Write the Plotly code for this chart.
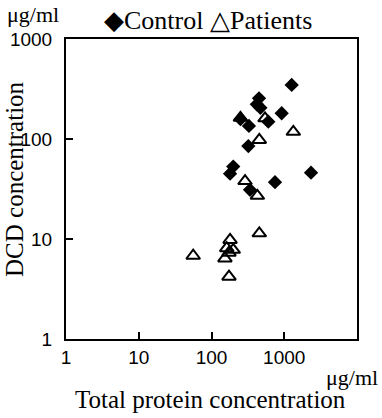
import plotly.graph_objects as go

# Control group (filled diamonds)
control_protein = [1265, 450, 420, 470, 922, 604, 250, 327, 321, 199, 180, 338, 746, 2333]
control_dcd = [347, 255, 222, 205, 181, 149, 158, 135, 85, 53, 45, 31, 37, 46]

# Patients group (open triangles)
patients_protein = [250, 544, 1333, 454, 289, 427, 454, 180, 56, 162, 199, 174, 153, 174]
patients_dcd = [163, 161, 118, 98, 38, 27, 11.4, 9.8, 6.8, 8.1, 7.8, 7.3, 6.4, 4.2]

x_ticks = [1, 10, 100, 1000, 10000]
x_ticklabels = ["1", "10", "100", "1000", "10000"]
y_ticks = [1, 10, 100, 1000]
y_ticklabels = ["1", "10", "100", "1000"]

serif = "Liberation Serif, Times New Roman, serif"
sans = "Liberation Sans, Arial, sans-serif"

W, H = 382, 418
ML, MR, MT, MB = 66, 25, 39, 79
pw = W - ML - MR
ph = H - MT - MB


def px(xp):
    return (xp - ML) / pw


def py(yp):
    return (H - MB - yp) / ph


fig = go.Figure()
fig.add_trace(go.Scatter(
    x=control_protein, y=control_dcd, mode="markers", name="Control",
    marker=dict(symbol="diamond", size=11, color="black", line=dict(width=0)),
))
fig.add_trace(go.Scatter(
    x=patients_protein, y=patients_dcd, mode="markers", name="Patients",
    marker=dict(symbol="triangle-up-open", size=12, color="black", line=dict(width=2)),
))

fig.update_layout(
    width=W, height=H,
    margin=dict(l=ML, r=MR, t=MT, b=MB),
    paper_bgcolor="white", plot_bgcolor="white",
    showlegend=False,
    xaxis=dict(
        type="log", range=[0, 4], tickvals=x_ticks, ticktext=x_ticklabels,
        ticks="inside", ticklen=7, tickwidth=1.5, tickcolor="black",
        showline=True, linecolor="black", linewidth=2, mirror=True,
        showgrid=False, zeroline=False, automargin=False,
        tickfont=dict(family=sans, size=19, color="black"),
    ),
    yaxis=dict(
        type="log", range=[0, 3], tickvals=y_ticks, ticktext=y_ticklabels,
        ticks="inside", ticklen=7, tickwidth=1.5, tickcolor="black",
        showline=True, linecolor="black", linewidth=2, mirror=True,
        showgrid=False, zeroline=False, automargin=False,
        ticklabelstandoff=8,
        tickfont=dict(family=sans, size=19, color="black"),
    ),
    annotations=[
        dict(text="Total protein concentration", x=px(210), y=py(399),
             xref="paper", yref="paper", xanchor="center", yanchor="middle",
             showarrow=False, font=dict(family=serif, size=25, color="black")),
        dict(text="DCD concentration", x=px(14), y=py(179), textangle=-90,
             xref="paper", yref="paper", xanchor="center", yanchor="middle",
             showarrow=False, font=dict(family=serif, size=25, color="black")),
        dict(text="μg/ml", x=px(33), y=py(14),
             xref="paper", yref="paper", xanchor="center", yanchor="middle",
             showarrow=False, font=dict(family=serif, size=22, color="black")),
        dict(text="◆Control △Patients", x=px(208), y=py(21),
             xref="paper", yref="paper", xanchor="center", yanchor="middle",
             showarrow=False, font=dict(family=serif, size=26, color="black")),
        dict(text="μg/ml", x=px(352), y=py(377),
             xref="paper", yref="paper", xanchor="center", yanchor="middle",
             showarrow=False, font=dict(family=serif, size=22, color="black")),
    ],
)

fig.write_html(
    "out.html",
    config={"displayModeBar": False},
    post_script="document.body.style.margin='0';document.body.style.padding='0';",
)
